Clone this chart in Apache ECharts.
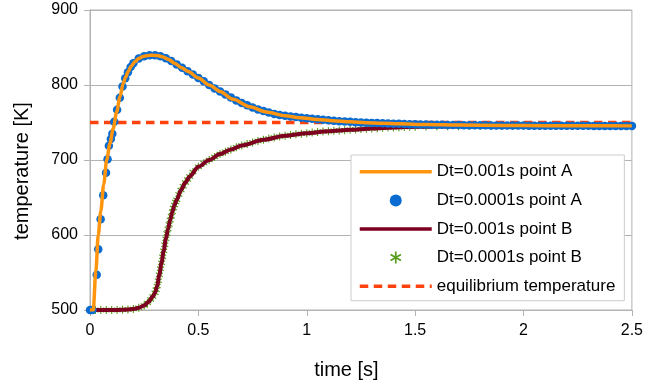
<!DOCTYPE html>
<html>
<head>
<meta charset="utf-8">
<script src="https://cdn.jsdelivr.net/npm/echarts@6/dist/echarts.min.js"></script>
<style>html,body{margin:0;padding:0;background:#fff;}#c{width:646px;height:385px;}</style>
</head>
<body>
<div id="c"></div>
<script>
// [time s, temperature K]
const aCoarse = [[0,500],[0.015,500],[0.027,552],[0.038,600],[0.05,632],[0.063,667],[0.077,700],[0.092,722],[0.107,742],[0.123,764],[0.138,784],[0.153,802],[0.165,811],[0.176,818],[0.19,825],[0.207,831],[0.225,835.5],[0.245,838],[0.27,839.5],[0.29,839.7],[0.31,839.2],[0.33,838],[0.36,834.5],[0.391,829],[0.42,823.5],[0.453,818],[0.5,809.5],[0.55,800],[0.6,791.5],[0.66,781],[0.737,771],[0.813,764],[0.9,759],[0.967,756.5],[1.05,754],[1.12,752.4],[1.2,751],[1.274,749.8],[1.35,749],[1.427,748.2],[1.55,747.4],[1.7,746.7],[1.9,746.1],[2.1,745.8],[2.3,745.6],[2.5,745.5]];
const aFine = [[0,500],[0.011,500],[0.031,547],[0.038,581],[0.049,621],[0.061,653],[0.074,683],[0.081,701],[0.087,719],[0.096,728],[0.103,735],[0.112,751],[0.125,767],[0.1375,783],[0.15,798],[0.1625,809],[0.175,817],[0.1875,824],[0.2,829],[0.225,835.5],[0.25,838.5],[0.275,839.7],[0.3,839.6],[0.325,838.4],[0.35,835.8],[0.375,832],[0.4,827.5],[0.425,823],[0.45,818.5],[0.475,814],[0.5,809.5],[0.525,805],[0.55,800],[0.575,795.5],[0.6,791.5],[0.625,787.5],[0.65,783.5],[0.675,779.5],[0.7,776],[0.725,773],[0.75,770],[0.775,767.5],[0.8,765.2],[0.825,763.2],[0.85,761.5],[0.875,760],[0.9,759],[0.925,758],[0.95,757.2],[0.975,756.4],[1,755.6],[1.025,755],[1.05,754.4],[1.075,753.7],[1.1,753],[1.125,752.3],[1.15,751.8],[1.175,751.3],[1.2,750.9],[1.225,750.5],[1.25,750.1],[1.275,749.8],[1.3,749.5],[1.325,749.2],[1.35,749],[1.375,748.7],[1.4,748.5],[1.425,748.2],[1.45,748],[1.475,747.8],[1.5,747.6],[1.525,747.4],[1.55,747.3],[1.575,747.1],[1.6,747],[1.625,746.9],[1.65,746.8],[1.675,746.7],[1.7,746.6],[1.725,746.5],[1.75,746.4],[1.775,746.3],[1.8,746.3],[1.825,746.2],[1.85,746.1],[1.875,746.1],[1.9,746],[1.925,746],[1.95,745.9],[1.975,745.9],[2,745.9],[2.025,745.8],[2.05,745.8],[2.075,745.8],[2.1,745.7],[2.125,745.7],[2.15,745.7],[2.175,745.7],[2.2,745.6],[2.225,745.6],[2.25,745.6],[2.275,745.6],[2.3,745.6],[2.325,745.5],[2.35,745.5],[2.375,745.5],[2.4,745.5],[2.425,745.5],[2.45,745.5],[2.475,745.5],[2.5,745.5]];
const bCoarse = [[0,500],[0.1,500],[0.15,500.3],[0.2,501.3],[0.225,503],[0.25,506],[0.27,511],[0.29,518],[0.3,523],[0.31,532],[0.32,547],[0.33,563],[0.34,579],[0.35,595],[0.36,608],[0.37,620],[0.38,631],[0.39,640],[0.4,647],[0.42,660],[0.44,670],[0.46,678],[0.5,691],[0.55,700],[0.6,708],[0.65,714],[0.7,719.5],[0.8,727],[0.9,732.3],[1,735.8],[1.1,738.4],[1.2,740.2],[1.3,742.1],[1.4,743.5],[1.5,744.4],[1.7,745.1],[2,745.4],[2.5,745.5]];
const bFine = [[0,500],[0.025,500],[0.05,500],[0.075,500],[0.1,500],[0.125,500],[0.15,500.3],[0.175,500.7],[0.2,501.3],[0.225,503],[0.25,506],[0.265,509.5],[0.28,514],[0.29,518],[0.3,523],[0.305,527],[0.31,532],[0.315,539],[0.32,547],[0.325,555],[0.33,563],[0.335,571],[0.34,579],[0.345,587],[0.35,595],[0.355,602],[0.36,608],[0.365,614],[0.37,620],[0.375,625],[0.38,631],[0.385,636],[0.39,640],[0.395,644],[0.4,647],[0.41,654],[0.42,660],[0.43,665],[0.44,670],[0.45,674],[0.46,678],[0.475,684],[0.5,691],[0.525,696],[0.55,700],[0.575,704],[0.6,708],[0.625,711],[0.65,714],[0.675,717],[0.7,719.5],[0.725,721.5],[0.75,723.5],[0.775,725.2],[0.8,727],[0.825,728.6],[0.85,730],[0.875,731.2],[0.9,732.3],[0.925,733.3],[0.95,734.2],[0.975,735],[1,735.8],[1.025,736.6],[1.05,737.3],[1.075,737.9],[1.1,738.4],[1.125,738.9],[1.15,739.4],[1.175,739.8],[1.2,740.2],[1.225,740.7],[1.25,741.2],[1.275,741.7],[1.3,742.1],[1.325,742.5],[1.35,742.9],[1.375,743.2],[1.4,743.5],[1.425,743.8],[1.45,744],[1.475,744.2],[1.5,744.4],[1.55,744.7],[1.6,744.9],[1.65,745],[1.7,745.1],[1.75,745.2],[1.8,745.3],[1.85,745.3],[1.9,745.4],[1.95,745.4],[2,745.4],[2.05,745.5],[2.1,745.5],[2.15,745.5],[2.2,745.5],[2.25,745.5],[2.3,745.5],[2.35,745.5],[2.4,745.5],[2.45,745.5],[2.5,745.5]];
const equilibrium = [[0,750],[2.5,750]];
const seriesNames = ['Dt=0.001s point A','Dt=0.0001s point A','Dt=0.001s point B','Dt=0.0001s point B','equilibrium temperature'];

const FONT = '"Liberation Sans", Arial, sans-serif';
const GRID = '#b3b3b3';
const asterisk = 'path://M-0.7,-5L0.7,-5L0.7,5L-0.7,5Z M3.98,3.106L-4.68,-1.894L-3.98,-3.106L4.68,1.894Z M4.68,-1.894L-3.98,3.106L-4.68,1.894L3.98,-3.106Z';

const chart = echarts.init(document.getElementById('c'), null, {renderer:'canvas'});
chart.setOption({
  animation: false,
  backgroundColor: '#fff',
  textStyle: {fontFamily: FONT},
  grid: {left: 90, right: 13, top: 10, bottom: 75, show: true, borderColor: GRID, borderWidth: 1, backgroundColor: 'transparent'},
  xAxis: {
    type: 'value', min: 0, max: 2.5, interval: 0.5,
    name: 'time [s]', nameLocation: 'middle', nameGap: 50,
    nameTextStyle: {fontSize: 20, color: '#000', fontFamily: FONT, padding: [0, 29, 0, 0]},
    axisLine: {show: true, lineStyle: {color: GRID}},
    axisTick: {show: true, length: 6, lineStyle: {color: GRID}},
    axisLabel: {fontSize: 16, color: '#000', margin: 13, fontFamily: FONT},
    splitLine: {show: false}
  },
  yAxis: {
    type: 'value', min: 500, max: 900, interval: 100,
    name: 'temperature [K]', nameLocation: 'middle', nameGap: 58, nameRotate: 90,
    nameTextStyle: {fontSize: 20, color: '#000', fontFamily: FONT, padding: [0, 22, 0, 0]},
    axisLine: {show: true, lineStyle: {color: GRID}},
    axisTick: {show: true, length: 6, lineStyle: {color: GRID}},
    axisLabel: {fontSize: 16, color: '#000', margin: 12, fontFamily: FONT},
    splitLine: {show: true, lineStyle: {color: GRID, width: 1}}
  },
  legend: {
    orient: 'vertical', left: 351, top: 155,
    itemWidth: 72, itemHeight: 12, itemGap: 11.6,
    padding: [8.3, 9, 6, 7],
    backgroundColor: '#fff', borderColor: '#cccccc', borderWidth: 1, borderRadius: 0,
    textStyle: {fontSize: 17, color: '#000', fontFamily: FONT},
    data: [
      {name: seriesNames[0], itemStyle: {opacity: 0}, lineStyle: {width: 3.5}},
      {name: seriesNames[1]},
      {name: seriesNames[2], itemStyle: {opacity: 0}, lineStyle: {width: 3.5}},
      {name: seriesNames[3]},
      {name: seriesNames[4], itemStyle: {opacity: 0}, lineStyle: {width: 3.5}}
    ]
  },
  series: [
    {name: seriesNames[0], type: 'line', data: aCoarse, symbol: 'none', smooth: 0.3, smoothMonotone: 'x',
     lineStyle: {color: '#ff950e', width: 3.5}, itemStyle: {color: '#ff950e'}, z: 6},
    {name: seriesNames[1], type: 'scatter', data: aFine, symbol: 'circle', symbolSize: 8.5,
     itemStyle: {color: '#0a6bd0', opacity: 1}, z: 5},
    {name: seriesNames[2], type: 'line', data: bCoarse, symbol: 'none', smooth: 0.3, smoothMonotone: 'x',
     lineStyle: {color: '#7e0021', width: 4}, itemStyle: {color: '#7e0021'}, z: 4},
    {name: seriesNames[3], type: 'scatter', data: bFine, symbol: asterisk, symbolSize: 8, symbolKeepAspect: true,
     itemStyle: {color: '#579d1c', opacity: 1}, z: 3},
    {name: seriesNames[4], type: 'line', data: equilibrium, symbol: 'none',
     lineStyle: {color: '#ff420e', width: 3.5, type: [8.5, 5.5]}, itemStyle: {color: '#ff420e'}, z: 2}
  ]
});
</script>
</body>
</html>
